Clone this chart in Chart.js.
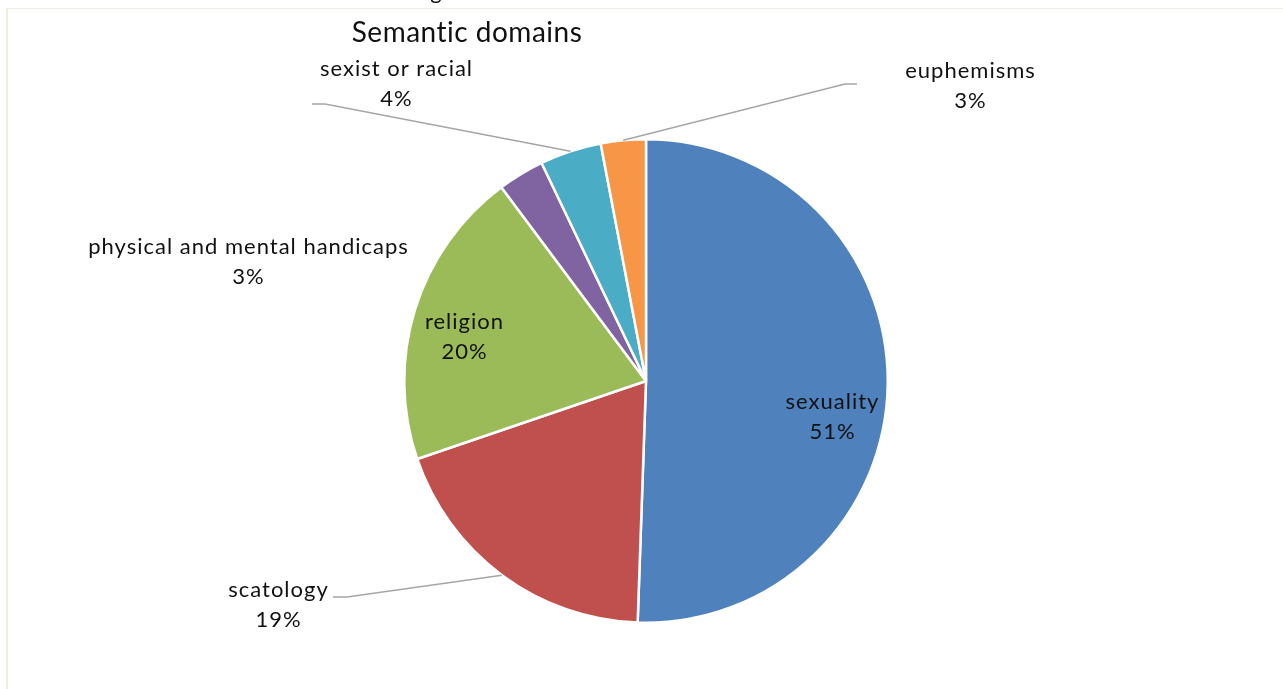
<!DOCTYPE html>
<html>
<head>
<meta charset="utf-8">
<script src="https://cdn.jsdelivr.net/npm/chart.js@4.4.0/dist/chart.umd.min.js"></script>
<style>
  html, body { margin: 0; padding: 0; background: #ffffff; }
  #wrap { position: relative; width: 1283px; height: 689px; overflow: hidden; }
  #frame { position: absolute; left: 6px; top: 8px; right: 0; bottom: 0;
           border-left: 2px solid #eeece1; border-top: 1px solid #eeece1; }
  canvas { position: absolute; left: 0; top: 0; }
</style>
</head>
<body>
<div id="wrap">
  <div id="frame"></div>
  <canvas id="c" width="1283" height="689"></canvas>
</div>
<script>
const categories = ["sexuality", "scatology", "religion", "physical and mental handicaps", "sexist or racial", "euphemisms"];
const shares = [50.5, 19.2, 20.0, 3.1, 4.1, 3.0];
const sliceColors = ["#4F81BD", "#C0504D", "#9BBB59", "#8064A2", "#4BACC6", "#F79646"];
const chartTitle = "Semantic domains";

// Label placement (pixel offsets from pie centre) – styling only
const labelLayout = [
  { dx: 186, dy: 36 },
  { dx: -368, dy: 224, line: { end: [-313, 216], elbow: [-299, 216] } },
  { dx: -182, dy: -44 },
  { dx: -398, dy: -119 },
  { dx: -250, dy: -297, line: { end: [-334, -277], elbow: [-321, -277] } },
  { dx: 324, dy: -295, line: { end: [211, -297], elbow: [199, -297] } }
];

const FONT = "Lato, 'Open Sans', sans-serif";

const labelPlugin = {
  id: 'pieLabels',
  afterDatasetsDraw(chart) {
    const ctx = chart.ctx;
    const meta = chart.getDatasetMeta(0);
    const total = shares.reduce((a, b) => a + b, 0);
    ctx.save();
    meta.data.forEach((arc, i) => {
      const p = arc.getProps(['x', 'y', 'startAngle', 'endAngle', 'outerRadius'], true);
      const L = labelLayout[i];
      const tx = p.x + L.dx, ty = p.y + L.dy;
      if (L.line) {
        const mid = (p.startAngle + p.endAngle) / 2;
        const ax = p.x + Math.cos(mid) * p.outerRadius;
        const ay = p.y + Math.sin(mid) * p.outerRadius;
        ctx.strokeStyle = '#a6a6a6';
        ctx.lineWidth = 1.5;
        ctx.beginPath();
        ctx.moveTo(ax, ay);
        ctx.lineTo(p.x + L.line.elbow[0], p.y + L.line.elbow[1]);
        ctx.lineTo(p.x + L.line.end[0], p.y + L.line.end[1]);
        ctx.stroke();
      }
      ctx.fillStyle = '#111111';
      ctx.font = '22px ' + FONT;
      ctx.letterSpacing = '1px';
      ctx.textAlign = 'center';
      ctx.textBaseline = 'middle';
      const pct = Math.round(shares[i] / total * 100) + '%';
      ctx.fillText(categories[i], tx + 0.5, ty - 15);
      ctx.fillText(pct, tx + 0.5, ty + 15);
    });
    // Title
    ctx.font = '28px ' + FONT;
    ctx.letterSpacing = '0.5px';
    ctx.fillStyle = '#111111';
    ctx.textAlign = 'center';
    ctx.textBaseline = 'alphabetic';
    ctx.fillText(chartTitle, 467, 42);
    // cut-off caption fragment at very top
    ctx.font = '22px ' + FONT;
    ctx.letterSpacing = '0px';
    ctx.fillText('g', 436, -1);
    ctx.restore();
  }
};

new Chart(document.getElementById('c'), {
  type: 'pie',
  data: {
    labels: categories,
    datasets: [{
      data: shares,
      backgroundColor: sliceColors,
      borderColor: '#ffffff',
      borderWidth: 2.5
    }]
  },
  options: {
    responsive: false,
    animation: false,
    layout: { padding: { left: 9, right: 0, top: 138, bottom: 65 } },
    plugins: {
      legend: { display: false },
      title: { display: false },
      tooltip: { enabled: false }
    }
  },
  plugins: [labelPlugin]
});
</script>
</body>
</html>
